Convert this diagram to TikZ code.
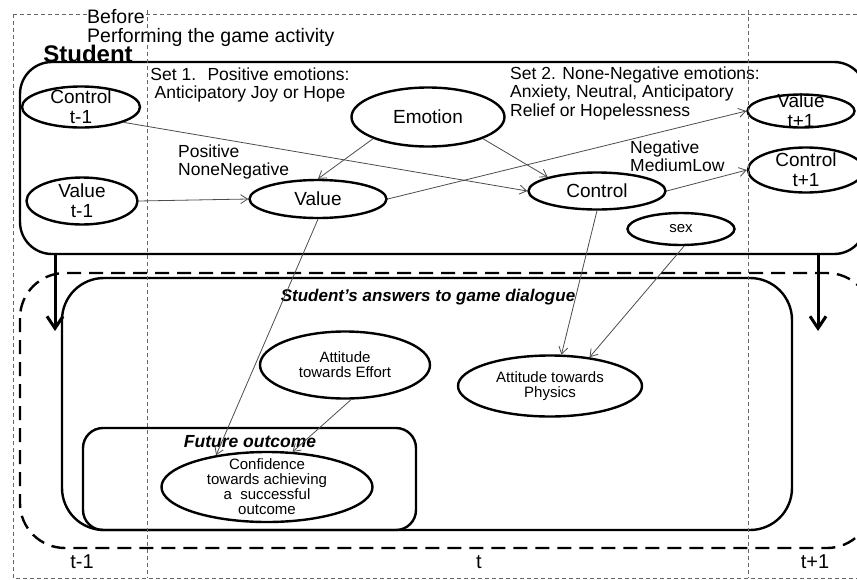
\documentclass[tikz,border=0pt]{standalone}
\usepackage{fontspec}
\setmainfont{Liberation Sans}
\usetikzlibrary{shapes.geometric,arrows.meta}

\tikzset{
  ell/.style={draw, ellipse, line width=2.4pt, inner sep=-40pt, align=center, font=\fontsize{19}{20}\selectfont},
  small/.style={font=\fontsize{15}{15}\selectfont},
  note/.style={align=left, inner sep=0pt, font=\fontsize{17.5}{18.5}\selectfont},
  timelbl/.style={inner sep=0pt, font=\fontsize{20}{20}\selectfont},
  link/.style={->, draw=black!70, line width=0.8pt},
  bigarrow/.style={-{Straight Barb[length=12pt,width=16pt,line width=3pt]}, line width=3pt},
  timeline/.style={draw=black!60, line width=0.9pt, dash pattern=on 4pt off 3pt},
  box/.style={draw, line width=2.4pt},
}

\begin{document}
\begin{tikzpicture}[x=1pt, y=-1pt, >={Straight Barb[length=7pt,width=9pt]}]
    \useasboundingbox (0,0) rectangle (857,579);
    \clip (0,0) rectangle (857,579);
    % time frame
    \draw[timeline] (13,14) -- (870,14);
    \draw[timeline] (13,14) -- (13,578) -- (870,578);
    \node[fill=white, inner sep=0.5pt, anchor=west, font=\fontsize{19.5}{20}\selectfont] (before) at (86.5,17) {Before};
    \node[anchor=west, inner sep=0pt, font=\fontsize{19.5}{20}\selectfont] (perform) at (87,37) {Performing the game activity};
    \node[font=\bfseries\fontsize{24}{25}\selectfont] (student) at (88,54) {Student};
    % boxes
    \draw[box, rounded corners=32pt] (20,62) rectangle (866,254);
    \draw[box, dash pattern=on 14pt off 8pt, rounded corners=45pt] (20,273) rectangle (872,548);
    \draw[box, rounded corners=42pt] (62,278) rectangle (792,530);
    \draw[box, rounded corners=20pt] (83,428) rectangle (416,530);
    \coordinate (upL) at (55,254);
    \coordinate (downL) at (55,331);
    \coordinate (upR) at (818,254);
    \coordinate (downR) at (818,331);
    \draw[bigarrow] (upL) -- (downL);
    \draw[bigarrow] (upR) -- (downR);
    % nodes
    \node[ell, minimum width=118pt, minimum height=41pt] (ctrlA) at (81,107) {Control\\t-1};
    \node[ell, minimum width=111pt, minimum height=47pt] (valA) at (82,201) {Value\\t-1};
    \node[ell, minimum width=153pt, minimum height=59pt] (emo) at (428,117) {Emotion};
    \node[ell, minimum width=137pt, minimum height=38pt] (val) at (318,199) {Value};
    \node[ell, minimum width=137pt, minimum height=37pt] (ctrl) at (597,191) {Control};
    \node[ell, minimum width=107pt, minimum height=33pt] (valC) at (801,111) {Value\\t+1};
    \node[ell, minimum width=116pt, minimum height=45pt] (ctrlC) at (806,170) {Control\\t+1};
    \node[ell, small, minimum width=107pt, minimum height=32pt] (sex) at (681,229) {sex};
    \node[ell, small, minimum width=170pt, minimum height=67pt] (eff) at (345,365) {Attitude\\towards Effort};
    \node[ell, small, minimum width=184pt, minimum height=61pt] (phys) at (550,386) {Attitude towards\\Physics};
    \node[ell, small, minimum width=211pt, minimum height=70pt] (conf) at (267,487) {Confidence\\towards achieving\\a~ successful\\outcome};
    % texts
    \node[note, align=center] (set1) at (250,85) {Set 1.~ Positive emotions:\\Anticipatory Joy or Hope};
    \node[note, anchor=west] (set2) at (510,93) {Set 2. None-Negative emotions:\\Anxiety, Neutral, Anticipatory\\Relief or Hopelessness};
    \node[note, anchor=west] (pos) at (178,162) {Positive\\NoneNegative};
    \node[note, anchor=west] (neg) at (630,156) {Negative\\MediumLow};
    \node[font=\bfseries\itshape\fontsize{17}{17}\selectfont] (answers) at (428,297) {Student's answers to game dialogue};
    \node[font=\bfseries\itshape\fontsize{17.5}{17.5}\selectfont] (future) at (250,442) {Future outcome};
    \node[timelbl] (tA) at (82,562) {t-1};
    \node[timelbl] (tB) at (479,562) {t};
    \node[timelbl] (tC) at (815,562) {t+1};
    % time slices
    \draw[timeline] (147,10) -- (147,578);
    \draw[timeline] (748,10) -- (748,578);
    % links
    \draw[link] (ctrlA.south east) -- (ctrl.west);
    \draw[link] (valA.east) -- (val.west);
    \draw[link] (emo.south west) -- (val.north);
    \draw[link] (emo.south east) -- (ctrl.north west);
    \draw[link] (val.east) -- (valC.west);
    \draw[link] (ctrl.east) -- (ctrlC.west);
    \draw[link] (val.south) -- (conf.148);
    \draw[link] (ctrl.south) -- (phys.70);
    \draw[link] (sex.-80) -- (phys.36);
    \draw[link] (eff.-80) -- (conf.54);
\end{tikzpicture}
\end{document}
